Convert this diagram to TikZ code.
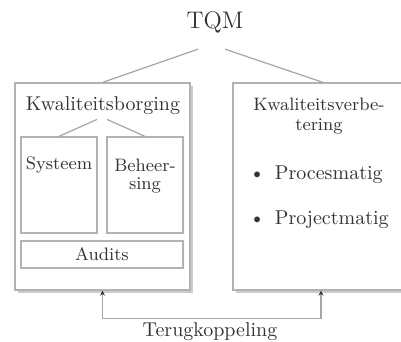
\documentclass[tikz,border=0pt]{standalone}
\usetikzlibrary{shadows,arrows.meta}
\tikzset{
  box/.style={draw=gray!60, fill=white, line width=0.6pt, inner sep=0pt,
    drop shadow={shadow xshift=1.5pt, shadow yshift=-1.5pt, fill=gray!40, opacity=1}},
  inbox/.style={draw=gray!60, fill=white, line width=0.6pt, inner sep=0pt},
  lbl/.style={text=black!80, align=center, inner sep=2pt},
  link/.style={draw=gray!70, line width=0.6pt}
}
\begin{document}
\begin{tikzpicture}[x=0.5pt,y=-0.5pt,>=stealth]
\useasboundingbox[fill=white] (0,0) rectangle (401,342);
\node[lbl, font=\large] (tqm) at (215,22) {TQM};

\node[box, minimum width=87.5pt, minimum height=103.5pt] (borg) at (102.5,186.5) {};
\node[box, minimum width=95pt, minimum height=103.5pt] (verb) at (328,186.5) {};

\node[lbl] (borgtxt) at (103,106) {Kwaliteitsborging};
\node[inbox, minimum width=38pt, minimum height=48pt] (sys) at (59,185) {};
\node[inbox, minimum width=38pt, minimum height=48pt] (beh) at (145,185) {};
\node[inbox, minimum width=81pt, minimum height=13.5pt] (aud) at (102,254.5) {};
\node[lbl, font=\small] (systxt) at (59,165) {Systeem};
\node[lbl, font=\small] (behtxt) at (145,176) {Beheer-\\[-2pt]sing};
\node[lbl, font=\small] (audtxt) at (102,254.5) {Audits};

\node[lbl, font=\small] (verbtxt) at (319,116) {Kwaliteitsverbe-\\[-1pt]tering};
\node[lbl, anchor=west] (proc) at (245,175) {\textbullet\hspace{5pt}Procesmatig};
\node[lbl, anchor=west] (proj) at (245,220) {\textbullet\hspace{5pt}Projectmatig};

\node[lbl] (terug) at (210,332) {Terugkoppeling};

\draw[link] ([xshift=-8.5pt,yshift=-6pt]tqm.south) -- (borg.north);
\draw[link] ([xshift=5pt,yshift=-6pt]tqm.south) -- ([xshift=-2.5pt]verb.north);
\draw[link] ([xshift=-3pt]borgtxt.south) -- (sys.north);
\draw[link] ([xshift=2pt]borgtxt.south) -- (beh.north);
\draw[link, {Stealth[length=2.5pt,width=2.5pt,black!80]}-{Stealth[length=2.5pt,width=2.5pt,black!80]}]
  (borg.south) -- ++(0,28) -| ([xshift=-3.5pt]verb.south);
\end{tikzpicture}
\end{document}
